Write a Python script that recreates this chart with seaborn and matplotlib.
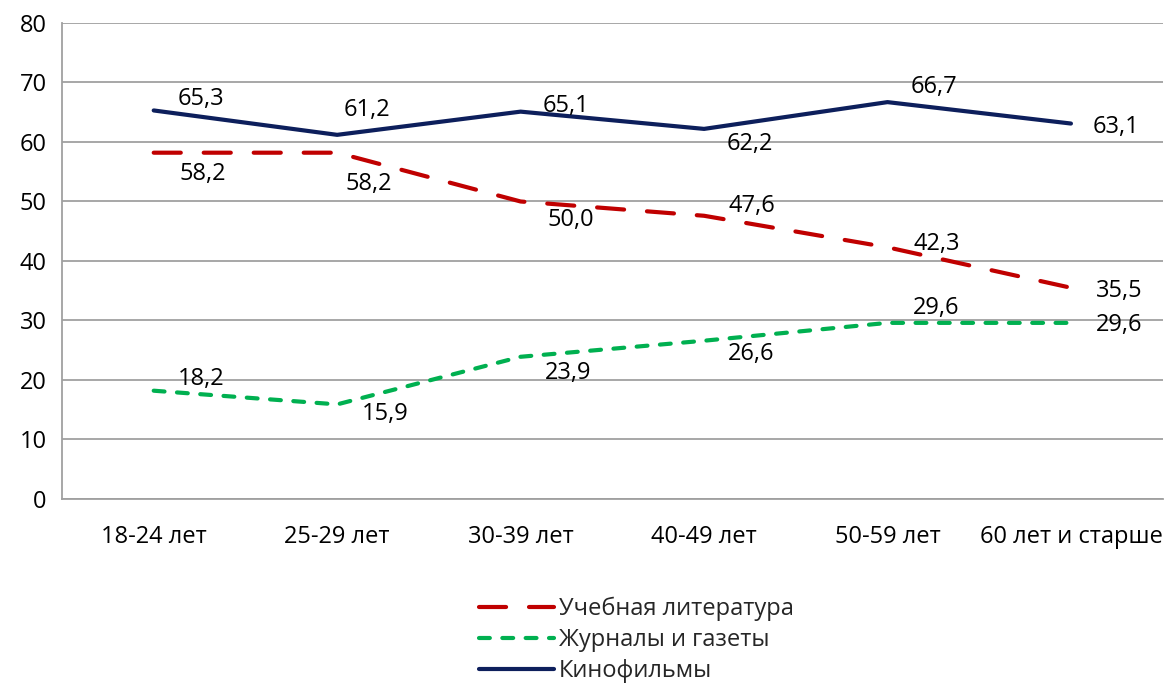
import numpy as np
import pandas as pd
import seaborn as sns
import matplotlib.pyplot as plt
from matplotlib.lines import Line2D

# data
categories = ['18-24 лет', '25-29 лет', '30-39 лет', '40-49 лет', '50-59 лет', '60 лет и старше']
uchebnaya = [58.2, 58.2, 50.0, 47.6, 42.3, 35.5]
zhurnaly = [18.2, 15.9, 23.9, 26.6, 29.6, 29.6]
kino = [65.3, 61.2, 65.1, 62.2, 66.7, 63.1]
series_names = ['Учебная литература', 'Журналы и газеты', 'Кинофильмы']

sns.set_style('white')
plt.rcParams['font.family'] = ['Open Sans', 'DejaVu Sans']
FS = 17

fig = plt.figure(figsize=(11.65, 6.86), dpi=100)
ax = fig.add_axes([0.0532, 0.2726, 0.9448, 0.6939])

x = np.arange(len(categories))
colors = ['#C00000', '#00B050', '#0D1F5C']
dash_styles = [(6.5, 5.5), (2.6, 3.0), None]
all_vals = [uchebnaya, zhurnaly, kino]

# label offsets in pixels (dx, dy) of the digit centre from the point
offsets = [
    [(49, -19), (32, -29), (50, -16), (48, 12), (49, 6), (48, -1)],
    [(47, 14), (48, -7), (48, -14), (47, -11), (49, 17), (48, 0)],
    [(47, 14), (30, 27), (45, 8), (46, -13), (47, 18), (45, -1)],
]
half_digit = 8.5

handles = []
for vals, col, ds, name, offs in zip(all_vals, colors, dash_styles, series_names, offsets):
    sns.lineplot(x=x, y=vals, ax=ax, color=col, lw=3.0, sort=False, legend=False)
    ln = ax.lines[-1]
    ln.set_solid_capstyle('round')
    ln.set_dash_capstyle('round')
    if ds is not None:
        ln.set_dashes(ds)
    h = Line2D([0], [0], color=col, lw=3.0, solid_capstyle='round', dash_capstyle='round')
    if ds is not None:
        h.set_dashes(ds)
    handles.append(h)
    for xi, v, (dx, dy) in zip(x, vals, offs):
        ax.annotate(f'{v:.1f}'.replace('.', ','), (xi, v), xytext=(dx, dy - half_digit),
                    textcoords='offset pixels', ha='center', va='baseline',
                    fontsize=FS, color='black')

ax.set_xlim(-0.5, len(categories) - 0.5)
ax.set_ylim(0, 80)
ax.set_yticks(range(0, 81, 10))
ax.set_xticks(x)
ax.set_xticklabels(categories, fontsize=FS, color='black')
ax.set_xticks(np.arange(-0.5, len(categories)), minor=True)
ax.tick_params(axis='x', which='major', length=0, pad=19)
ax.tick_params(axis='x', which='minor', length=7, width=1.3, color='#A0A0A0', direction='out')
ax.tick_params(axis='y', length=5, width=1.3, color='#A0A0A0', direction='out',
               labelsize=FS, labelcolor='black', pad=6)
ax.grid(axis='y', color='#A0A0A0', lw=1.3)
ax.set_axisbelow(True)
for s in ['top', 'right']:
    ax.spines[s].set_visible(False)
for s in ['left', 'bottom']:
    ax.spines[s].set_color('#A0A0A0')
    ax.spines[s].set_linewidth(1.3)
ax.set_xlabel('')
ax.set_ylabel('')

fig.legend(handles, series_names, loc='center', bbox_to_anchor=(0.546, 0.067),
           frameon=False, fontsize=FS, handlelength=3.2, handletextpad=0.2,
           labelspacing=0.3, borderpad=0)

fig.savefig('out.png', dpi=100)
